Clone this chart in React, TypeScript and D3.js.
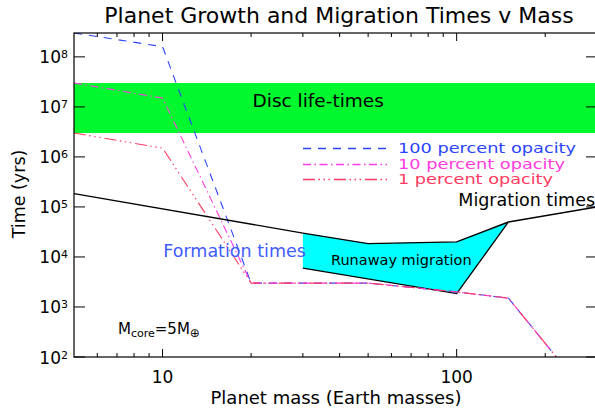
import React from "react";
import * as d3 from "d3";

// ---- data ----
const formationMass = [5, 10, 20, 50, 100, 150, 300];
const opacity100 = [3e8, 1.6e8, 3e3, 3e3, 2e3, 1.5e3, 10];
const opacity10 = [3e7, 1.5e7, 3e3, 3e3, 2e3, 1.5e3, 10];
const opacity1 = [3e6, 1.5e6, 3e3, 3e3, 2e3, 1.5e3, 10];

const migrationMass = [5, 30, 50, 100, 150, 300];
const migrationTime = [1.85e5, 3e4, 1.85e4, 2e4, 5e4, 1e5];

const runawayMass = [30, 50, 100, 150, 100, 30];
const runawayTime = [3e4, 1.85e4, 2e4, 5e4, 1.85e3, 6e3];
const runawayEdgeMass = [30, 100, 150];
const runawayEdgeTime = [6e3, 1.85e3, 5e4];

const discLife = [3e6, 3e7];

const xTickMajor = [10, 100];
const xTickLabels = ["10", "100"];
const xTickMinor = [6, 7, 8, 9, 20, 30, 40, 50, 60, 70, 80, 90, 200, 300];
const yTickExps = [2, 3, 4, 5, 6, 7, 8];

const legendLabels = ["100 percent opacity", "10 percent opacity", "1 percent opacity"];
const legendWidths = [178, 167, 155];
const seriesColors = ["#2a44ff", "#ff3be0", "#ff3a62"];
const seriesDash = ["8,7", "8,3.5,1.5,3.5", "12,3.5,1.5,3.5,1.5,3.5,1.5,4"];

const W = 595;
const H = 411;
const L = 74, R = 597, T = 33, B = 357;
const FONT = "'DejaVu Sans', sans-serif";

export default function App() {
  const x = d3.scaleLog().domain([5, 300]).range([L, R]);
  const y = d3.scaleLog().domain([100, 3e8]).range([B, T]);
  const line = d3
    .line<[number, number]>()
    .x((d) => x(d[0]))
    .y((d) => y(d[1]));

  const series = [opacity100, opacity10, opacity1];
  const zip = (a: number[], b: number[]) => a.map((v, i) => [v, b[i]] as [number, number]);

  return (
    <svg
      width={W}
      height={H}
      style={{ position: "absolute", left: 0, top: 0, background: "#fff" }}
      fontFamily={FONT}
    >
      <defs>
        <clipPath id="plotclip">
          <rect x={L} y={T} width={R - L} height={B - T} />
        </clipPath>
      </defs>
      <rect x={0} y={0} width={W} height={H} fill="#fff" />

      {/* disc lifetime band */}
      <rect
        x={L}
        y={y(discLife[1])}
        width={R - L}
        height={y(discLife[0]) - y(discLife[1])}
        fill="#00f82e"
      />

      {/* runaway migration region */}
      <path d={line(zip(runawayMass, runawayTime)) + "Z"} fill="#00ffff" stroke="none" />
      <path d={line(zip(runawayEdgeMass, runawayEdgeTime)) || ""} fill="none" stroke="#000" strokeWidth={1.3} />

      <g clipPath="url(#plotclip)">
        {series.map((s, i) => (
          <path
            key={i}
            d={line(zip(formationMass, s)) || ""}
            fill="none"
            stroke={seriesColors[i]}
            strokeWidth={1.1}
            strokeDasharray={seriesDash[i]}
          />
        ))}
        <path
          d={line(zip(migrationMass, migrationTime)) || ""}
          fill="none"
          stroke="#000"
          strokeWidth={1.4}
        />
      </g>

      {/* axes box */}
      <rect x={L} y={T} width={R - L} height={B - T} fill="none" stroke="#000" strokeWidth={1.2} />

      {/* x ticks */}
      {xTickMajor.map((v) => (
        <g key={"xm" + v}>
          <line x1={x(v)} x2={x(v)} y1={B} y2={B - 8} stroke="#000" />
          <line x1={x(v)} x2={x(v)} y1={T} y2={T + 8} stroke="#000" />
        </g>
      ))}
      {xTickMinor.map((v) => (
        <g key={"xn" + v}>
          <line x1={x(v)} x2={x(v)} y1={B} y2={B - 4} stroke="#000" />
          <line x1={x(v)} x2={x(v)} y1={T} y2={T + 4} stroke="#000" />
        </g>
      ))}
      {xTickMajor.map((v, i) => (
        <text key={"xl" + v} x={x(v)} y={382.5} fontSize={17} textAnchor="middle" fill="#000">
          {xTickLabels[i]}
        </text>
      ))}

      {/* y ticks */}
      {yTickExps.map((e) => {
        const yy = y(Math.pow(10, e));
        return (
          <g key={"y" + e}>
            <line x1={L} x2={L + 11} y1={yy} y2={yy} stroke="#000" />
            <line x1={R} x2={R - 11} y1={yy} y2={yy} stroke="#000" />
            <text x={68} y={yy + 6.5} fontSize={17} textAnchor="end" fill="#000">
              10
              <tspan fontSize={11} dy={-5}>
                {String(e)}
              </tspan>
            </text>
          </g>
        );
      })}

      {/* title & axis labels */}
      <text x={339} y={22.5} fontSize={22} textAnchor="middle" fill="#000">
        Planet Growth and Migration Times v Mass
      </text>
      <text x={336} y={404} fontSize={18} textAnchor="middle" fill="#000">
        Planet mass (Earth masses)
      </text>
      <text
        transform="translate(25,194) rotate(-90)"
        fontSize={17.5}
        textAnchor="middle"
        fill="#000"
      >
        Time (yrs)
      </text>

      {/* annotations */}
      <text x={252.5} y={106.7} fontSize={18.5} fill="#000">
        Disc life-times
      </text>
      <text x={458.3} y={206} fontSize={17.5} fill="#000">
        Migration times
      </text>
      <text x={163.3} y={256.5} fontSize={17.5} fill="#3f5cff">
        Formation times
      </text>
      <text x={331} y={265} fontSize={14.5} fill="#000">
        Runaway migration
      </text>
      <text x={118} y={333.5} fontSize={15} fill="#000">
        M
        <tspan fontSize={11} dy={3}>core</tspan>
        <tspan fontSize={15} dy={-3}>=5M</tspan>
        <tspan fontSize={12} dy={3}>⊕</tspan>
      </text>

      {/* legend */}
      {legendLabels.map((lab, i) => {
        const ly = [148.5, 164.5, 179.5][i];
        return (
          <g key={lab}>
            <path
              d={`M303,${ly}H387`}
              fill="none"
              stroke={seriesColors[i]}
              strokeWidth={1.4}
              strokeDasharray={seriesDash[i]}
            />
            <text
              x={398}
              y={ly + 4}
              fontSize={14.5}
              fill={seriesColors[i]}
              textLength={legendWidths[i]}
              lengthAdjust="spacingAndGlyphs"
            >
              {lab}
            </text>
          </g>
        );
      })}
    </svg>
  );
}
